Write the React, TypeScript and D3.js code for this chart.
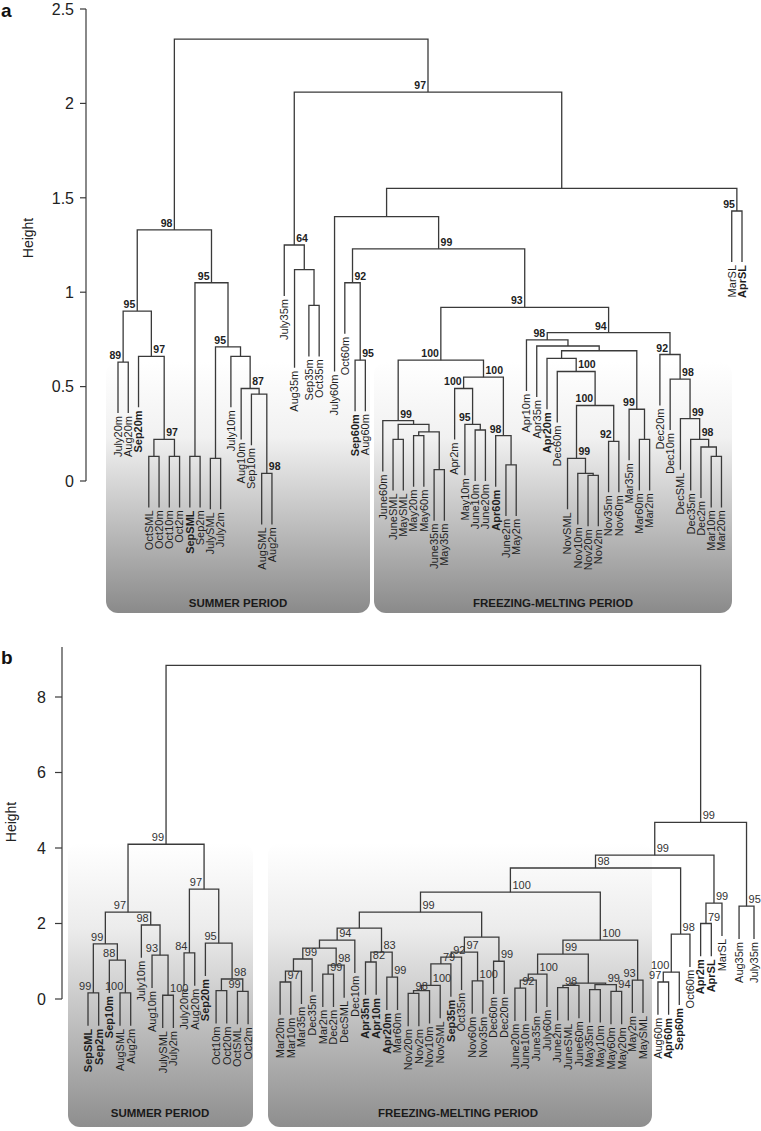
import React from "react";
import * as d3 from "d3";

// ---------------- Panel a data ----------------
const leavesA = [
  "July20m","Aug20m","Sep20m","OctSML","Oct20m","Oct10m","Oct2m","SepSML","Sep2m","JulySML","July2m","July10m","Aug10m","Sep10m","AugSML","Aug2m",
  "July35m","Aug35m","Sep35m","Oct35m","July60m","Oct60m","Sep60m","Aug60m",
  "June60m","JuneSML","MaySML","May20m","May60m","June35m","May35m","Apr2m","May10m","June10m","June20m","Apr60m","June2m","May2m",
  "Apr10m","Apr35m","Apr20m","Dec60m","NovSML","Nov10m","Nov20m","Nov2m","Nov35m","Nov60m","Mar35m","Mar60m","Mar2m",
  "Dec20m","Dec10m","DecSML","Dec35m","Dec2m","Mar10m","Mar20m","MarSL","AprSL"
];
const boldA = ["Sep20m","SepSML","Sep60m","Apr60m","Apr20m","AprSL"];
const gapsA: Record<number, number> = { 15: 0.2, 17: 0.4, 19: 0.5, 23: 0.7 };
const hangA = 0.27;
const leafEndA: Record<string, number> = { Aug35m: 0.6, July60m: 0.58 };
// [left, right, height, support, labelSide]
const mergesA: any[] = [
  ["July20m","Aug20m",0.63,89,"l"],
  ["OctSML","Oct20m",0.13,null,""],
  ["Oct10m","Oct2m",0.13,null,""],
  [1,2,0.22,97,"r"],
  ["Sep20m",3,0.66,97,"r"],
  [0,4,0.90,95,"l"],
  ["SepSML","Sep2m",0.13,null,""],
  ["JulySML","July2m",0.12,null,""],
  ["AugSML","Aug2m",0.04,98,"r"],
  ["Sep10m",8,0.46,null,""],
  ["Aug10m",9,0.49,87,"r"],
  ["July10m",10,0.66,null,""],
  [7,11,0.71,95,"l"],
  [6,12,1.05,95,"l"],
  [5,13,1.33,98,"l"],
  ["Sep35m","Oct35m",0.93,null,""],
  ["Aug35m",15,1.12,null,""],
  ["July35m",16,1.25,64,"r"],
  ["Sep60m","Aug60m",0.64,95,"r"],
  ["Oct60m",18,1.05,92,"r"],
  ["JuneSML","MaySML",0.22,null,""],
  ["May20m","May60m",0.24,null,""],
  ["June35m","May35m",0.06,null,""],
  [21,22,0.26,null,""],
  [20,23,0.30,null,""],
  ["June60m",24,0.32,99,"r"],
  ["June10m","June20m",0.27,null,""],
  ["May10m",26,0.30,95,"l"],
  ["Apr2m",27,0.49,100,"l"],
  ["June2m","May2m",0.085,null,""],
  ["Apr60m",29,0.24,98,"l"],
  [28,30,0.55,100,"r"],
  [25,31,0.64,100,"l"],
  ["Nov20m","Nov2m",0.03,null,""],
  ["Nov10m",33,0.04,null,""],
  ["NovSML",34,0.12,99,"r"],
  ["Nov35m","Nov60m",0.21,92,"l"],
  [35,36,0.40,100,"l"],
  ["Dec60m",37,0.58,100,"r"],
  ["Apr20m",38,0.65,null,""],
  ["Mar60m","Mar2m",0.22,null,""],
  ["Mar35m",40,0.38,99,"l"],
  [39,41,0.69,null,""],
  ["Apr35m",42,0.715,null,""],
  ["Apr10m",43,0.747,98,"l"],
  ["Mar10m","Mar20m",0.13,null,""],
  ["Dec2m",45,0.18,null,""],
  ["Dec35m",46,0.22,98,"r"],
  ["DecSML",47,0.33,99,"r"],
  ["Dec10m",48,0.54,98,"r"],
  ["Dec20m",49,0.67,92,"l"],
  [44,50,0.786,94,"l"],
  [32,51,0.92,93,"l"],
  [19,52,1.23,99,"r"],
  ["July60m",53,1.40,null,""],
  ["MarSL","AprSL",1.43,95,"l"],
  [54,55,1.55,null,""],
  [17,56,2.06,97,"l"],
  [14,57,2.34,null,""]
];
const ticksA = [0, 0.5, 1, 1.5, 2, 2.5];
const tickLabelsA = ["0", "0.5", "1", "1.5", "2", "2.5"];

// ---------------- Panel b data ----------------
const leavesB = [
  "SepSML","Sep2m","Sep10m","AugSML","Aug2m","July10m","Aug10m","JulySML","July2m","July20m","Aug20m","Sep20m","Oct10m","Oct20m","OctSML","Oct2m",
  "Mar20m","Mar10m","Mar35m","Dec35m","Mar2m","Dec2m","DecSML","Dec10m","Apr35m","Apr10m","Apr20m","Mar60m","Nov20m","Nov2m","Nov10m","NovSML",
  "Sep35m","Oct35m","Nov60m","Nov35m","Dec60m","Dec20m","June20m","June10m","June35m","July60m","June2m","JuneSML","June60m","May35m","May10m",
  "May60m","May20m","May2m","MaySML",
  "Aug60m","Apr60m","Sep60m","Oct60m","Apr2m","AprSL","MarSL","Aug35m","July35m"
];
const boldB = ["SepSML","Sep2m","Sep10m","Sep20m","Apr35m","Apr10m","Apr20m","Sep35m","Apr60m","Sep60m","Apr2m","AprSL"];
const gapsB: Record<number, number> = { 15: 2, 50: 0.4, 57: 0.6, 58: 0.4 };
const hangB = 0.87;
const leafEndB: Record<string, number> = {};
const mergesB: any[] = [
  ["SepSML","Sep2m",0.16,99,"l"],
  ["AugSML","Aug2m",0.16,100,"l"],
  ["Sep10m",1,1.03,88,"l"],
  [0,2,1.46,99,"l"],
  ["JulySML","July2m",0.10,100,"r"],
  ["Aug10m",4,1.16,93,"l"],
  ["July10m",5,1.96,98,"l"],
  [3,6,2.30,97,"l"],
  ["July20m","Aug20m",1.22,84,"l"],
  ["Oct10m","Oct20m",0.22,null,""],
  ["OctSML","Oct2m",0.20,99,"l"],
  [9,10,0.53,98,"r"],
  ["Sep20m",11,1.48,95,"l"],
  [8,12,2.91,97,"l"],
  [7,13,4.10,99,"l"],
  ["Mar20m","Mar10m",0.45,97,"r"],
  [15,"Mar35m",0.74,null,""],
  [16,"Dec35m",1.06,99,"r"],
  ["Mar2m","Dec2m",0.66,99,"r"],
  [18,"DecSML",0.90,98,"r"],
  [17,19,1.35,null,""],
  [20,"Dec10m",1.56,94,"r"],
  ["Apr35m","Apr10m",0.98,82,"r"],
  ["Apr20m","Mar60m",0.58,99,"r"],
  [22,23,1.24,83,"r"],
  [21,24,1.88,null,""],
  ["Nov20m","Nov2m",0.15,98,"r"],
  [26,"Nov10m",0.22,null,""],
  [27,"NovSML",0.36,100,"r"],
  [28,"Sep35m",0.93,79,"r"],
  [29,"Oct35m",1.11,92,"r"],
  ["Nov60m","Nov35m",0.48,100,"r"],
  [30,31,1.24,97,"r"],
  ["Dec60m","Dec20m",1.0,99,"r"],
  [32,33,1.64,null,""],
  [25,34,2.30,99,"r"],
  ["June20m","June10m",0.29,92,"r"],
  [36,"June35m",0.5,null,""],
  [37,"July60m",0.66,100,"r"],
  ["June2m","JuneSML",0.30,98,"r"],
  [39,"June60m",0.36,null,""],
  ["May35m","May10m",0.25,null,""],
  ["May60m","May20m",0.2,94,"r"],
  [41,42,0.38,99,"r"],
  [40,43,0.42,null,""],
  [38,44,1.19,99,"r"],
  ["May2m","MaySML",0.50,93,"l"],
  [45,46,1.56,100,"r"],
  [35,47,2.83,100,"r"],
  ["Aug60m","Apr60m",0.45,97,"l"],
  [49,"Sep60m",0.71,100,"l"],
  [50,"Oct60m",1.72,98,"r"],
  [48,51,3.47,98,"r"],
  ["Apr2m","AprSL",2.0,79,"r"],
  [53,"MarSL",2.54,99,"r"],
  [52,54,3.81,99,"r"],
  ["Aug35m","July35m",2.46,95,"r"],
  [55,56,4.68,99,"r"],
  [14,57,8.84,null,""]
];
const ticksB = [0, 2, 4, 6, 8];
const tickLabelsB = ["0", "2", "4", "6", "8"];

const FONT = "'Liberation Sans', Arial, Helvetica, sans-serif";

function layoutTree(leaves: string[], gaps: Record<number, number>, merges: any[], hang: number,
  ends: Record<string, number>, xRange: [number, number], y: d3.ScaleLinear<number, number>) {
  const slot = new Map<string, number>();
  let s = 0;
  leaves.forEach((n, i) => { slot.set(n, s); s += 1 + (gaps[i] || 0); });
  const last = s - 1 - (gaps[leaves.length - 1] || 0);
  const x = d3.scaleLinear().domain([0, last]).range(xRange);
  const pos: { x: number; h: number }[] = [];
  const paths: string[] = [];
  const supports: { x: number; y: number; t: string; side: string }[] = [];
  const leafEnd = new Map<string, number>();
  merges.forEach((m) => {
    const [l, r, h, sup, side] = m;
    const info = (ref: any) => {
      if (typeof ref === "string") {
        const e = ends[ref] !== undefined ? ends[ref] : h - hang;
        leafEnd.set(ref, e);
        return { x: x(slot.get(ref)!), top: e };
      }
      return { x: pos[ref].x, top: pos[ref].h };
    };
    const L = info(l), R = info(r);
    const p = d3.path();
    p.moveTo(L.x, y(L.top));
    p.lineTo(L.x, y(h));
    p.lineTo(R.x, y(h));
    p.lineTo(R.x, y(R.top));
    paths.push(p.toString());
    const cx = (L.x + R.x) / 2;
    pos.push({ x: cx, h });
    if (sup !== null) supports.push({ x: cx, y: y(h), t: String(sup), side });
  });
  const leafTexts = leaves.map((n) => ({ name: n, x: x(slot.get(n)!), y: y(leafEnd.get(n)!) }));
  return { paths, supports, leafTexts };
}

export default function App() {
  const yA = d3.scaleLinear().domain([0, 2.5]).range([481, 9]);
  const yB = d3.scaleLinear().domain([0, 8]).range([999, 697]);
  const A = layoutTree(leavesA, gapsA, mergesA, hangA, leafEndA, [118, 742], yA);
  const B = layoutTree(leavesB, gapsB, mergesB, hangB, leafEndB, [88, 754], yB);
  const lineCol = "#3a3a3a";

  return (
    <svg width={761} height={1131} style={{ position: "absolute", left: 0, top: 0, background: "#fff" }}
      fontFamily={FONT}>
      <defs>
        <linearGradient id="gA" gradientUnits="userSpaceOnUse" x1="0" y1="362" x2="0" y2="613">
          <stop offset="0" stopColor="#ffffff" />
          <stop offset="0.3" stopColor="#f1f1f1" />
          <stop offset="1" stopColor="#8a8a8a" />
        </linearGradient>
        <linearGradient id="gB" gradientUnits="userSpaceOnUse" x1="0" y1="843" x2="0" y2="1127">
          <stop offset="0" stopColor="#ffffff" />
          <stop offset="0.3" stopColor="#ececec" />
          <stop offset="1" stopColor="#8e8e8e" />
        </linearGradient>
      </defs>

      {/* Background period boxes */}
      <rect x={106} y={362} width={264} height={251} rx={12} fill="url(#gA)" />
      <rect x={374} y={362} width={358} height={251} rx={12} fill="url(#gA)" />
      <rect x={68} y={843} width={185} height={284} rx={12} fill="url(#gB)" />
      <rect x={268} y={843} width={384} height={284} rx={12} fill="url(#gB)" />
      <text x={238} y={607} textAnchor="middle" fontSize={11.5} fontWeight="bold" fill="#1a1a1a">SUMMER PERIOD</text>
      <text x={553} y={607} textAnchor="middle" fontSize={11.5} fontWeight="bold" fill="#1a1a1a">FREEZING-MELTING PERIOD</text>
      <text x={160} y={1117} textAnchor="middle" fontSize={11.5} fontWeight="bold" fill="#1a1a1a">SUMMER PERIOD</text>
      <text x={458} y={1117} textAnchor="middle" fontSize={11.5} fontWeight="bold" fill="#1a1a1a">FREEZING-MELTING PERIOD</text>

      {/* Panel letters */}
      <text x={1} y={17} fontSize={19} fontWeight="bold" fill="#111">a</text>
      <text x={1} y={664} fontSize={19} fontWeight="bold" fill="#111">b</text>

      {/* Axis a */}
      <line x1={86} x2={86} y1={yA(2.5)} y2={yA(0)} stroke={lineCol} strokeWidth={1.2} />
      {ticksA.map((t, i) => (
        <g key={"ta" + i}>
          <line x1={80} x2={86} y1={yA(t)} y2={yA(t)} stroke={lineCol} strokeWidth={1.2} />
          <text x={74} y={yA(t)} dy="0.36em" textAnchor="end" fontSize={16} fill="#222">{tickLabelsA[i]}</text>
        </g>
      ))}
      <text transform={`translate(33,238) rotate(-90)`} textAnchor="middle" fontSize={14} fill="#222">Height</text>

      {/* Axis b */}
      <line x1={62} x2={62} y1={647} y2={yB(0)} stroke={lineCol} strokeWidth={1.2} />
      {ticksB.map((t, i) => (
        <g key={"tb" + i}>
          <line x1={55} x2={62} y1={yB(t)} y2={yB(t)} stroke={lineCol} strokeWidth={1.2} />
          <text x={46} y={yB(t)} dy="0.36em" textAnchor="end" fontSize={16} fill="#222">{tickLabelsB[i]}</text>
        </g>
      ))}
      <text transform={`translate(16,822) rotate(-90)`} textAnchor="middle" fontSize={14} fill="#222">Height</text>

      {/* Dendrogram a */}
      {A.paths.map((d, i) => <path key={"pa" + i} d={d} fill="none" stroke={lineCol} strokeWidth={1.3} />)}
      {A.supports.map((s, i) => (
        <text key={"sa" + i} x={s.side === "l" ? s.x - 2 : s.x + 2} y={s.y - 3}
          textAnchor={s.side === "l" ? "end" : "start"} fontSize={10.5} fontWeight="bold" fill="#222">{s.t}</text>
      ))}
      {A.leafTexts.map((l, i) => (
        <text key={"la" + i} transform={`translate(${l.x},${l.y + 3}) rotate(-90)`} dy="0.35em"
          textAnchor="end" fontSize={11} fontWeight={boldA.includes(l.name) ? "bold" : "normal"} fill="#1e1e1e">{l.name}</text>
      ))}

      {/* Dendrogram b */}
      {B.paths.map((d, i) => <path key={"pb" + i} d={d} fill="none" stroke={lineCol} strokeWidth={1.3} />)}
      {B.supports.map((s, i) => (
        <text key={"sb" + i} x={s.side === "l" ? s.x - 2 : s.x + 2} y={s.y - 3}
          textAnchor={s.side === "l" ? "end" : "start"} fontSize={11} fill="#333">{s.t}</text>
      ))}
      {B.leafTexts.map((l, i) => (
        <text key={"lb" + i} transform={`translate(${l.x},${l.y + 3}) rotate(-90)`} dy="0.35em"
          textAnchor="end" fontSize={11} fontWeight={boldB.includes(l.name) ? "bold" : "normal"} fill="#1e1e1e">{l.name}</text>
      ))}
    </svg>
  );
}
